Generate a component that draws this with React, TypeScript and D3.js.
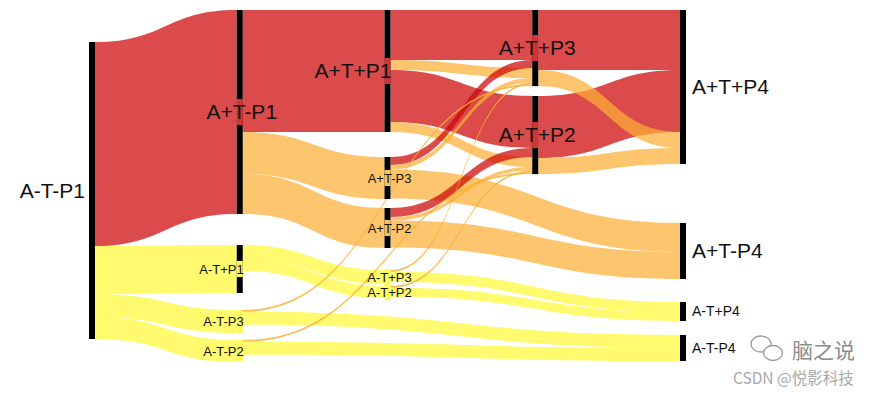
import React, { useRef, useEffect } from "react";
import * as d3 from "d3";

const width = 885;
const height = 393;

// nodes: name, column (time point), offset inside the column in flow units (like riverplot's y)
const nodes: [string, number, number][] = [
  ["A-T-P1", 0, 32],
  ["A+T-P1", 1, 0],
  ["A-T+P1", 1, 235],
  ["A-T-P3", 1, 300],
  ["A-T-P2", 1, 330],
  ["A+T+P1", 2, 0],
  ["A+T-P3", 2, 147],
  ["A+T-P2", 2, 198],
  ["A-T+P3", 2, 260],
  ["A-T+P2", 2, 276],
  ["A+T+P3", 3, 0],
  ["A+T+P2", 3, 86],
  ["A+T+P4", 4, 0],
  ["A+T-P4", 4, 213],
  ["A-T+P4", 4, 292],
  ["A-T-P4", 4, 325],
];

const groups = ["red", "orange", "yellow"];
const groupColors = ["#cd0505", "#fcaf34", "#fff836"];

// source, target, value, group (listed in drawing order)
const links: [string, string, number, string][] = [
  ["A-T-P1", "A+T-P1", 204, "red"],
  ["A-T-P1", "A-T+P1", 48, "yellow"],
  ["A-T-P1", "A-T-P3", 23, "yellow"],
  ["A-T-P1", "A-T-P2", 22, "yellow"],
  ["A+T-P1", "A+T+P1", 122, "red"],
  ["A+T-P1", "A+T-P3", 42, "orange"],
  ["A+T-P1", "A+T-P2", 40, "orange"],
  ["A-T+P1", "A-T+P3", 14, "yellow"],
  ["A-T+P1", "A-T+P2", 12, "yellow"],
  ["A-T-P3", "A-T-P4", 13, "yellow"],
  ["A-T-P2", "A-T-P4", 13, "yellow"],
  ["A-T+P3", "A-T+P4", 10, "yellow"],
  ["A-T+P2", "A-T+P4", 9, "yellow"],
  ["A+T+P1", "A+T+P3", 50, "red"],
  ["A+T+P1", "A+T+P2", 52, "red"],
  ["A+T+P1", "A+T+P3", 10, "orange"],
  ["A+T+P1", "A+T+P2", 10, "orange"],
  ["A+T-P3", "A+T-P4", 29, "orange"],
  ["A+T-P2", "A+T-P4", 27, "orange"],
  ["A+T-P3", "A+T+P3", 8, "red"],
  ["A+T-P3", "A+T+P3", 4.5, "orange"],
  ["A+T-P2", "A+T+P2", 9, "red"],
  ["A+T-P2", "A+T+P2", 3.5, "orange"],
  ["A-T-P3", "A+T+P3", 1.8, "orange"],
  ["A-T-P2", "A+T+P2", 1.8, "orange"],
  ["A-T+P3", "A+T+P3", 1.8, "orange"],
  ["A-T+P2", "A+T+P2", 1.8, "orange"],
  ["A+T+P2", "A+T+P4", 62, "red"],
  ["A+T+P3", "A+T+P4", 60, "red"],
  ["A+T+P2", "A+T+P4", 16, "orange"],
  ["A+T+P3", "A+T+P4", 16, "orange"],
];

// labels that sit to the left of their bar instead of centred on it
const labelAnchor: Record<string, string> = {
  "A+T+P1": "end",
  "A-T+P1": "end",
  "A-T-P3": "end",
  "A-T-P2": "end",
};

const App = () => {
  const svgRef = useRef<SVGSVGElement>(null);

  useEffect(() => {
    const svg = d3.select(svgRef.current);
    svg.selectAll("*").remove();

    const barW = 6;
    const x = d3.scaleLinear().domain([0, 4]).range([89, 680]);
    const y = d3.scaleLinear().domain([0, 352]).range([10, 362]);
    const color = d3.scaleOrdinal<string, string>().domain(groups).range(groupColors);
    const gi = (g: string) => groups.indexOf(g);

    const N = nodes.map(([name, col, pos]) => ({ name, col, pos, ins: [] as any[], outs: [] as any[] } as any));
    const byName = new Map(N.map((n: any) => [n.name, n]));
    const L = links.map(([s, t, v, g]) => ({ s: byName.get(s), t: byName.get(t), v, g } as any));
    L.forEach((l: any) => { l.s.outs.push(l); l.t.ins.push(l); });

    N.forEach((n: any) => {
      n.value = Math.max(d3.sum(n.ins, (l: any) => l.v), d3.sum(n.outs, (l: any) => l.v));
      n.y0 = y(n.pos);
      n.y1 = y(n.pos + n.value);
      n.x0 = x(n.col);
      n.x1 = n.x0 + barW;
      n.group = (n.ins[0] || n.outs[0]).g;
      // outgoing flows stacked by target position, incoming flows by group
      let acc = n.pos;
      n.outs.slice()
        .sort((a: any, b: any) => a.t.pos - b.t.pos || a.t.col - b.t.col || gi(a.g) - gi(b.g))
        .forEach((l: any) => { l.sy0 = y(acc); acc += l.v; l.sy1 = y(acc); });
      acc = n.pos;
      n.ins.slice()
        .sort((a: any, b: any) => gi(a.g) - gi(b.g) || a.s.pos - b.s.pos)
        .forEach((l: any) => { l.ty0 = y(acc); acc += l.v; l.ty1 = y(acc); });
    });

    const ribbon = (l: any) => {
      const x0 = l.s.x1, x1 = l.t.x0, xm = (x0 + x1) / 2;
      const p = d3.path();
      p.moveTo(x0, l.sy0);
      p.bezierCurveTo(xm, l.sy0, xm, l.ty0, x1, l.ty0);
      p.lineTo(x1, l.ty1);
      p.bezierCurveTo(xm, l.ty1, xm, l.sy1, x0, l.sy1);
      p.closePath();
      return p.toString();
    };

    svg.append("g")
      .selectAll("path")
      .data(L)
      .enter()
      .append("path")
      .attr("d", ribbon)
      .attr("fill", (d: any) => color(d.g))
      .attr("fill-opacity", (d: any) => (d.v < 3 ? 0.85 : 0.72));

    const fontSize = (n: any) => (n.value >= 50 ? 21 : n.col === 4 ? 14 : 13);
    const patchColor = (n: any) => d3.interpolateRgb("#ffffff", color(n.group))(0.82);

    const nodeG = svg.append("g")
      .selectAll("g")
      .data(N)
      .enter()
      .append("g");

    // node bars
    nodeG.append("rect")
      .attr("x", (d: any) => d.x0)
      .attr("y", (d: any) => d.y0)
      .attr("width", barW)
      .attr("height", (d: any) => d.y1 - d.y0)
      .attr("fill", (d: any) => {
        const inner = d.col > 0 && d.col < 4;
        return inner && d.y1 - d.y0 < 2.2 * fontSize(d) * 1.25 ? patchColor(d) : "#000";
      });

    // coloured patch behind labels that sit on the bar
    nodeG.filter((d: any) => d.col > 0 && d.col < 4)
      .append("rect")
      .attr("x", (d: any) => d.x0)
      .attr("y", (d: any) => (d.y0 + d.y1) / 2 - fontSize(d) * 0.62)
      .attr("width", barW)
      .attr("height", (d: any) => fontSize(d) * 1.24)
      .attr("fill", patchColor);

    nodeG.append("text")
      .attr("x", (d: any) => {
        if (d.col === 0) return d.x0 - 4;
        if (d.col === 4) return d.x1 + 6;
        return labelAnchor[d.name] === "end" ? d.x1 + 1 : (d.x0 + d.x1) / 2 + 2;
      })
      .attr("y", (d: any) => (d.y0 + d.y1) / 2)
      .attr("dy", "0.35em")
      .attr("text-anchor", (d: any) => {
        if (d.col === 0) return "end";
        if (d.col === 4) return "start";
        return labelAnchor[d.name] || "middle";
      })
      .style("font-family", "'Liberation Sans', Arial, sans-serif")
      .style("font-size", (d: any) => fontSize(d) + "px")
      .attr("fill", "#111")
      .text((d: any) => d.name);

    // watermark
    const wm = svg.append("g").attr("fill", "none").attr("stroke", "#9a9a9a").attr("stroke-width", 1.3);
    wm.append("ellipse").attr("cx", 761).attr("cy", 344).attr("rx", 10).attr("ry", 8).attr("fill", "#fff");
    wm.append("ellipse").attr("cx", 773).attr("cy", 353).attr("rx", 9.5).attr("ry", 7.5).attr("fill", "#fff");
    svg.append("text")
      .attr("x", 792).attr("y", 358)
      .style("font-family", "'Noto Sans CJK SC', sans-serif")
      .style("font-size", "21px")
      .attr("fill", "#8c8c8c")
      .text("脑之说");
    svg.append("text")
      .attr("x", 733).attr("y", 384)
      .style("font-family", "'Noto Sans CJK SC', sans-serif")
      .style("font-size", "15.5px")
      .attr("fill", "#a8a8a8")
      .text("CSDN @悦影科技");
  }, []);

  return (
    <svg
      ref={svgRef}
      width={width}
      height={height}
      style={{ position: "absolute", left: 0, top: 0, background: "#fff" }}
    ></svg>
  );
};

export default App;
